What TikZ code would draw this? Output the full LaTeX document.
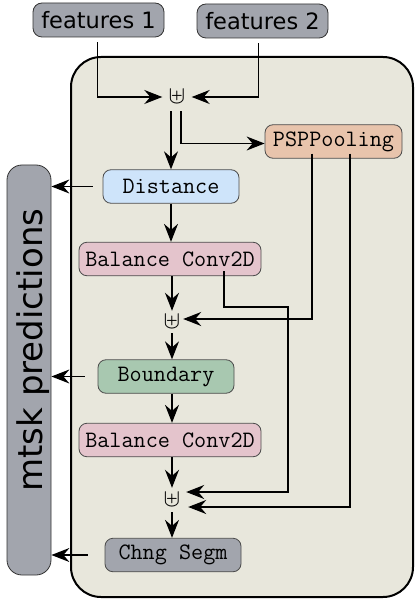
\documentclass[tikz,border=0pt]{standalone}
\usepackage{fontspec}
\setmainfont{DejaVu Sans}
\usetikzlibrary{arrows.meta}
\definecolor{bg}{RGB}{232,231,220}
\definecolor{grayb}{RGB}{162,165,173}
\definecolor{blueb}{RGB}{206,228,250}
\definecolor{pinkb}{RGB}{228,196,204}
\definecolor{greenb}{RGB}{168,200,176}
\definecolor{orangeb}{RGB}{232,196,172}
\tikzset{
  box/.style={draw=black!70, line width=0.8pt, rounded corners=8pt, inner sep=0pt,
    font=\ttfamily\fontsize{23.5}{26}\selectfont, minimum height=33.5pt},
  featbox/.style={draw=black!80, line width=0.8pt, rounded corners=9pt, inner sep=0pt,
    fill=grayb, font=\fontsize{22.5}{26}\selectfont, minimum height=34pt, minimum width=131pt},
  uplusnode/.style={inner sep=0pt},
  arr/.style={-{Stealth[length=18pt,width=14pt,inset=6pt]}, line width=1.3pt}
}
\newcommand{\mergesym}{\fontsize{28}{28}\selectfont$\uplus$}
\begin{document}
\begin{tikzpicture}[x=1pt,y=-1pt]
\useasboundingbox (0,0) rectangle (419,601);
% frame
\node[draw=black, line width=2pt, fill=bg, rounded corners=30pt, minimum width=342pt,
  minimum height=540pt, inner sep=0pt] (frame) at (242,327) {};
% predictions bar
\node[draw=black!80, line width=0.8pt, fill=grayb, rounded corners=15pt, minimum width=44pt,
  minimum height=410pt, inner sep=0pt] (mtsk) at (29,370) {};
\node[rotate=90, anchor=base, inner sep=0pt, font=\fontsize{34}{40}\selectfont] (mtsktext) at (42,350) {mtsk predictions};
% inputs
\node[featbox] (f1) at (98.5,20) {features 1};
\node[featbox] (f2) at (262.5,21) {features 2};
% blocks
\node[box, fill=orangeb, minimum width=137pt] (psp) at (333.5,141.5) {PSPPooling};
\node[box, fill=blueb, minimum width=136pt] (dist) at (171,186.5) {Distance};
\node[box, fill=pinkb, minimum width=182pt] (bc1) at (170,259) {Balance Conv2D};
\node[box, fill=greenb, minimum width=136pt] (bnd) at (166,376.5) {Boundary};
\node[box, fill=pinkb, minimum width=182pt] (bc2) at (170,440) {Balance Conv2D};
\node[box, fill=grayb, minimum width=136pt] (chng) at (173,555) {Chng Segm};
% merge symbols
\node[uplusnode, minimum width=29pt, minimum height=28pt] (u1) at (177,97) {\mergesym};
\node[uplusnode, minimum width=22pt, minimum height=22pt] (u2) at (172,322) {\mergesym};
\node[uplusnode, minimum width=32pt, minimum height=24pt] (u3) at (172,500) {\mergesym};
% connectors
\draw[arr, shorten <=5pt] ([xshift=-1pt]f1.south) |- (u1.west);
\draw[arr, shorten <=5pt] ([xshift=-4pt]f2.south) |- (u1.east);
\coordinate (u1l) at ([xshift=-6pt]u1.south);
\coordinate (u1r) at ([xshift=4pt]u1.south);
\draw[arr] (u1l) -- (u1l |- dist.north);
\draw[arr] (u1r) |- ([yshift=-2pt]psp.west);
\draw[arr] (dist.south) -- (dist.south |- bc1.north);
\draw[arr] (u2 |- bc1.south) -- (u2.north);
\coordinate (p1) at ([xshift=-21.5pt,yshift=5pt]psp.south);
\draw[arr] (p1) |- ([yshift=3pt]u2.east);
\draw[arr] (u2.south) -- (u2.south |- bnd.north);
\draw[arr] (u2 |- bnd.south) -- (u2 |- bc2.north);
\draw[arr] (u3 |- bc2.south) -- (u3.north);
\draw[arr] (u3.south) -- (u3.south |- chng.north);
\coordinate (p2) at ([xshift=16.5pt,yshift=5pt]psp.south);
\draw[arr] (p2) |- ([yshift=-7pt]u3.east);
\coordinate (b1) at ([xshift=54pt,yshift=5pt]bc1.south);
\coordinate (k1) at (288,307);
\draw[arr] (b1) |- (k1) |- ([xshift=-2pt,yshift=8pt]u3.east);
% outputs to predictions
\draw[arr, shorten <=10pt] (dist.west) -- (dist.west -| mtsk.east);
\draw[arr, shorten <=13pt] (bnd.west) -- (bnd.west -| mtsk.east);
\draw[arr, shorten <=17pt] (chng.west) -- (chng.west -| mtsk.east);
\end{tikzpicture}
\end{document}
